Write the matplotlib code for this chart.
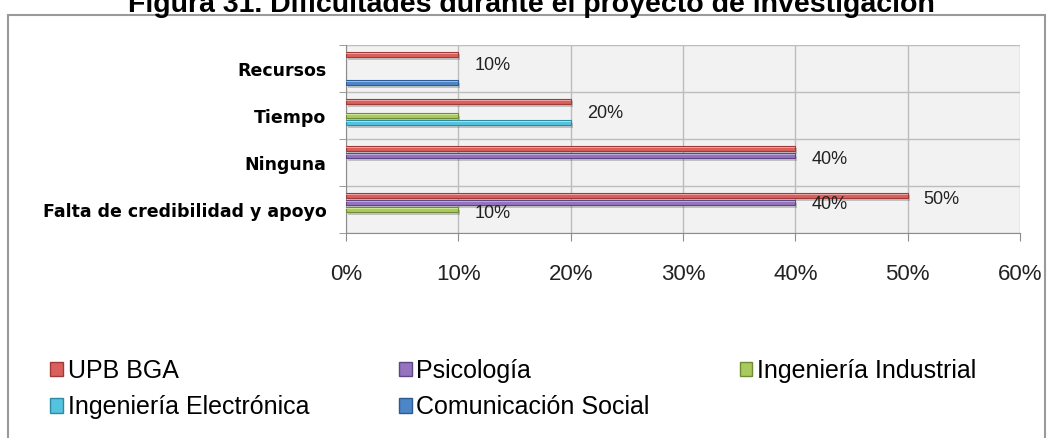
import matplotlib
matplotlib.use("Agg")
import matplotlib.pyplot as plt
import matplotlib.patheffects as pe
from matplotlib.patches import Rectangle, Patch
import numpy as np

# ---------------- data ----------------
categories = ["Falta de credibilidad y apoyo", "Ninguna", "Tiempo", "Recursos"]
series_names = ["UPB BGA", "Psicología", "Ingeniería Industrial",
                "Ingeniería Electrónica", "Comunicación Social"]
upb_bga = [50, 40, 20, 10]
psicologia = [40, 40, 0, 0]
ing_industrial = [10, 0, 10, 0]
ing_electronica = [0, 0, 20, 0]
com_social = [0, 0, 0, 10]
series_values = [upb_bga, psicologia, ing_industrial, ing_electronica, com_social]

x_ticks = [0, 10, 20, 30, 40, 50, 60]
x_tick_labels = ["0%", "10%", "20%", "30%", "40%", "50%", "60%"]

# data labels shown in the chart: (category index, value)
label_cats = [3, 2, 1, 0, 0, 0]
label_vals = [10, 20, 40, 50, 40, 10]

title = "Figura 31. Dificultades durante el proyecto de investigación"

# ---------------- style ----------------
colors = ["#D9605C", "#9474BE", "#A9CB5E", "#55C3DE", "#4D86C8"]
edge_colors = ["#9E3A37", "#5E4683", "#6F8B35", "#2E8AA3", "#2D5A92"]
highlight = ["#F4B3B1", "#C9B6E4", "#D9EDA6", "#B7EAF6", "#A9C8EC"]
label_dy = [3, 2, 3, 10, 5, -4]   # pixel offsets of data labels

W, H = 1051, 438
fig = plt.figure(figsize=(W / 100, H / 100), dpi=100)
fig.patch.set_facecolor("white")

# outer chart border
fig.patches.append(Rectangle((8 / W, -0.05), (1045 - 8) / W, 1 - 15 / H + 0.05,
                             transform=fig.transFigure, fill=False,
                             edgecolor="#9A9A9A", linewidth=1.5))

fig.text(531 / W, 1 - 12 / H, title, ha="center", va="baseline",
         fontsize=20.5, fontweight="bold", family="Liberation Sans")

ax = fig.add_axes([346 / W, 1 - 233 / H, (1020 - 346) / W, (233 - 45) / H])
ax.set_facecolor("#F2F2F2")

y = np.arange(len(categories))
slot = 0.15
bar_h = 0.115
shadow = [pe.SimplePatchShadow(offset=(1.5, -2), alpha=0.35, shadow_rgbFace="#666666"),
          pe.Normal()]
for i, (vals, name) in enumerate(zip(series_values, series_names)):
    pos = y + (2 - i) * slot
    v = np.array(vals, dtype=float)
    mask = v > 0
    ax.barh(pos[mask], v[mask], height=bar_h, color=colors[i],
            edgecolor=edge_colors[i], linewidth=0.8, path_effects=shadow, zorder=3)
    ax.barh(pos[mask] + bar_h * 0.18, v[mask], height=bar_h * 0.3,
            color=highlight[i], linewidth=0, zorder=4, alpha=0.8)

for c, v, dy in zip(label_cats, label_vals, label_dy):
    ax.annotate(f"{v}%", xy=(v, c), xytext=(16, dy), textcoords="offset pixels",
                ha="left", va="center", fontsize=13, color="#222222",
                family="Liberation Sans", zorder=5)

ax.set_xlim(0, 60)
ax.set_ylim(-0.5, len(categories) - 0.5)
ax.set_xticks(x_ticks)
ax.set_xticklabels(x_tick_labels, fontsize=16, family="Liberation Sans", color="#222222")
ax.set_yticks(y)
ax.set_yticklabels(categories, fontsize=12.5, fontweight="bold", family="DejaVu Sans")
ax.set_yticks(np.arange(-0.5, len(categories)), minor=True)
ax.tick_params(axis="y", which="major", length=0, pad=14)
ax.tick_params(axis="y", which="minor", length=5, color="#8C8C8C", direction="out")
ax.tick_params(axis="x", length=6, color="#8C8C8C", direction="out", pad=16)

ax.grid(axis="x", color="#BDBDBD", linewidth=1, zorder=0)
ax.grid(axis="y", which="minor", color="#BDBDBD", linewidth=1, zorder=0)
ax.set_axisbelow(True)
for s in ["top", "right"]:
    ax.spines[s].set_visible(False)
ax.spines["left"].set_color("#8C8C8C")
ax.spines["bottom"].set_color("#8C8C8C")

handles = [Patch(facecolor=colors[i], edgecolor=edge_colors[i]) for i in range(5)]
order = [0, 3, 1, 4, 2]
leg = fig.legend([handles[k] for k in order], [series_names[k] for k in order],
                 ncol=3, loc="center left", bbox_to_anchor=(40 / W, 1 - 389 / H),
                 frameon=False, prop={"family": "Liberation Sans", "size": 18},
                 handlelength=0.5, handleheight=0.5, handletextpad=0.2,
                 columnspacing=3.6, labelspacing=0.5, borderaxespad=0)

fig.savefig("out.png", dpi=100)
